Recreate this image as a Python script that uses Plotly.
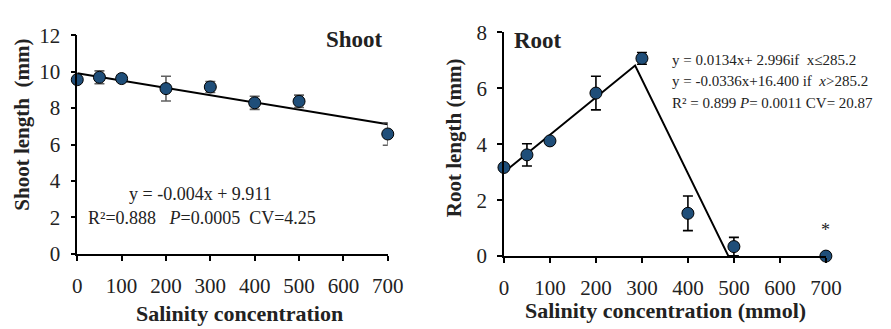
import plotly.graph_objects as go

# ---- data ----
salinity = [0, 50, 100, 200, 300, 400, 500, 700]
shoot_len = [9.56, 9.69, 9.62, 9.07, 9.16, 8.29, 8.37, 6.58]
shoot_err = [0.0, 0.35, 0.08, 0.68, 0.30, 0.36, 0.34, 0.62]
root_len = [3.17, 3.62, 4.12, 5.83, 7.07, 1.53, 0.34, 0.0]
root_err = [0.08, 0.40, 0.05, 0.60, 0.21, 0.62, 0.33, 0.0]

shoot_fit_x = [0, 700]
shoot_slope, shoot_icpt = -0.004, 9.911
root_break = 285.2
root_slope1, root_icpt1 = 0.0134, 2.996
root_slope2, root_icpt2 = -0.0336, 16.400

x_ticks = [0, 100, 200, 300, 400, 500, 600, 700]

FONT = "Liberation Serif, Times New Roman, serif"
MARK = "#1F4E79"

fig = go.Figure()

# shoot
fig.add_trace(go.Scatter(
    x=shoot_fit_x, y=[shoot_slope * v + shoot_icpt for v in shoot_fit_x],
    mode="lines", line=dict(color="black", width=2), xaxis="x", yaxis="y",
    showlegend=False, hoverinfo="skip"))
fig.add_trace(go.Scatter(
    x=salinity, y=shoot_len, mode="markers", xaxis="x", yaxis="y",
    error_y=dict(type="data", array=shoot_err, color="#606060", thickness=1.6, width=5),
    marker=dict(size=12, color=MARK, line=dict(color="black", width=1)),
    cliponaxis=False, showlegend=False))

# root
zero_x = root_icpt2 / -root_slope2
rx = [0, root_break, zero_x]
ry = [root_icpt1, root_slope1 * root_break + root_icpt1, 0]
fig.add_trace(go.Scatter(
    x=rx, y=ry, mode="lines", line=dict(color="black", width=2),
    xaxis="x2", yaxis="y2", showlegend=False, hoverinfo="skip", cliponaxis=False))
fig.add_trace(go.Scatter(
    x=salinity, y=root_len, mode="markers", xaxis="x2", yaxis="y2",
    error_y=dict(type="data", array=root_err, color="black", thickness=1.6, width=5),
    marker=dict(size=12, color=MARK, line=dict(color="black", width=1)),
    cliponaxis=False, showlegend=False))

ax_common = dict(showline=True, linecolor="black", linewidth=1.5, ticks="outside",
                 ticklen=5, tickwidth=1.5, tickcolor="black", showgrid=False,
                 zeroline=False, tickfont=dict(family=FONT, size=21, color="#222"))

W, H = 891, 329
fig.update_layout(
    width=W, height=H, margin=dict(l=0, r=0, t=0, b=0),
    paper_bgcolor="white", plot_bgcolor="white",
    xaxis=dict(domain=[74 / W, 392 / W], range=[0, 700], tickvals=x_ticks, anchor="y",
               ticklabelstandoff=7, **ax_common),
    yaxis=dict(domain=[1 - 261 / H, 1 - 25 / H], range=[0, 12], dtick=2, anchor="x",
               ticklabelstandoff=6, **ax_common),
    xaxis2=dict(domain=[511 / W, 840.7 / W], range=[0, 700], tickvals=x_ticks, anchor="y2",
                ticklabelstandoff=7, **ax_common),
    yaxis2=dict(domain=[1 - 263.3 / H, 1 - 22 / H], range=[0, 8], dtick=2, anchor="x2",
                ticklabelstandoff=6, **ax_common),
)

ann = []
def A(text, x, y, xref, yref, size, bold=False, xanchor="center", angle=0):
    ann.append(dict(text=f"<b>{text}</b>" if bold else text, x=x, y=y, xref=xref, yref=yref,
                    showarrow=False, xanchor=xanchor, yanchor="middle", textangle=angle,
                    font=dict(family=FONT, size=size, color="#222")))

A("Shoot", 625, 11.75, "x", "y", 23, bold=True)
A("y = -0.004x + 9.911", 277, 3.3, "x", "y", 18)
A("R²=0.888   <i>P</i>=0.0005  CV=4.25", 281, 1.95, "x", "y", 18)
A("Root", 17, 7.7, "x2", "y2", 23, bold=True, xanchor="left")
A("y = 0.0134x+ 2.996if  x≤285.2", 362, 7.03, "x2", "y2", 15, xanchor="left")
A("y = -0.0336x+16.400 if  <i>x</i>>285.2", 362, 6.27, "x2", "y2", 15, xanchor="left")
A("R² = 0.899 <i>P</i>= 0.0011 CV= 20.87", 362, 5.47, "x2", "y2", 15, xanchor="left")
A("*", 700, 0.95, "x2", "y2", 18)
A("Salinity concentration", 240 / W, 1 - 325 / H, "paper", "paper", 22, bold=True)
A("Salinity concentration (mmol)", 676 / W, 1 - 322 / H, "paper", "paper", 22, bold=True)
A("Shoot length  (mm)", 18 / W, 1 - 122 / H, "paper", "paper", 21, bold=True, angle=-90)
A("Root length (mm)", 460 / W, 1 - 136 / H, "paper", "paper", 21, bold=True, angle=-90)
fig.update_layout(annotations=ann)

fig.write_html("out.html")
